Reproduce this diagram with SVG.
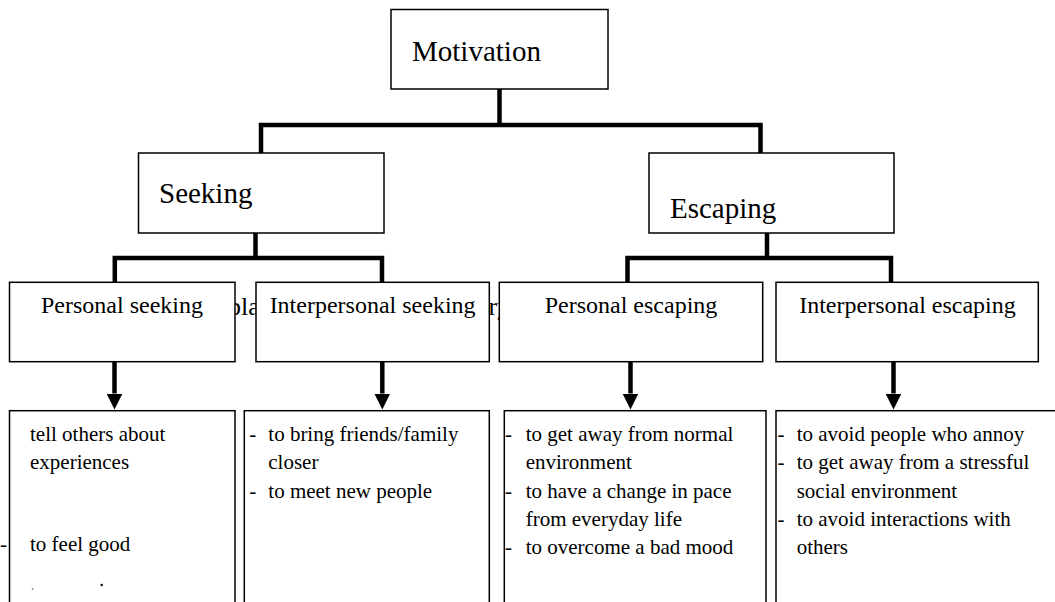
<svg xmlns="http://www.w3.org/2000/svg" width="1055" height="602" viewBox="0 0 1055 602">
  <style>
    .box { fill: #ffffff; stroke: #000000; stroke-width: 1.5; }
    .t { font-family: "Liberation Serif", "Times New Roman", serif; fill: #000000; }
    .big { font-size: 29px; }
    .mid { font-size: 24px; text-anchor: middle; }
    .sm { font-size: 21px; }
    .bar { fill: none; stroke: #000000; stroke-width: 4.5; stroke-linejoin: miter; stroke-linecap: butt; }
    .arrow { fill: none; stroke: #000000; stroke-width: 4.5; marker-end: url(#head); }
  </style>
  <defs>
    <marker id="head" markerUnits="userSpaceOnUse" viewBox="0 0 16 16" refX="0" refY="8" markerWidth="16" markerHeight="16" orient="auto">
      <path d="M0,0 L16,8 L0,16 z" fill="#000000"/>
    </marker>
  </defs>

  <rect x="0" y="0" width="1055" height="602" fill="#ffffff"/>

  <!-- stray text fragments lying under the third-level boxes -->
  <g id="stray-text" class="t" font-size="26">
    <text x="228" y="315">pla</text>
    <text x="488.5" y="315">ry</text>
  </g>

  <!-- tree connectors -->
  <g id="connectors">
    <path class="bar" d="M499.5,89 V125"/>
    <path class="bar" d="M261,153 V125 H760.5 V153"/>
    <path class="bar" d="M255.5,233 V258"/>
    <path class="bar" d="M114.8,282.3 V258 H382 V282.3"/>
    <path class="bar" d="M767,233 V258"/>
    <path class="bar" d="M627.5,282.3 V258 H891 V282.3"/>
    <path class="arrow" d="M114.5,361.7 V393.5"/>
    <path class="arrow" d="M382.3,361.7 V393.5"/>
    <path class="arrow" d="M630.5,361.7 V393.5"/>
    <path class="arrow" d="M893.5,361.7 V393.5"/>
  </g>

  <g id="motivation">
    <rect class="box" x="391" y="9.5" width="217" height="79.5"/>
    <text class="t big" x="412" y="61">Motivation</text>
  </g>

  <g id="seeking">
    <rect class="box" x="138.5" y="153" width="245.5" height="80"/>
    <text class="t big" x="159" y="203">Seeking</text>
  </g>

  <g id="escaping">
    <rect class="box" x="649" y="153" width="245" height="80"/>
    <text class="t big" x="670" y="218">Escaping</text>
  </g>

  <g id="personal-seeking">
    <rect class="box" x="9.5" y="282.3" width="225.5" height="79.4"/>
    <text class="t mid" x="122" y="312.7">Personal seeking</text>
  </g>

  <g id="interpersonal-seeking">
    <rect class="box" x="256" y="282.3" width="233.3" height="79.4"/>
    <text class="t mid" x="372.6" y="312.7">Interpersonal seeking</text>
  </g>

  <g id="personal-escaping">
    <rect class="box" x="499.3" y="282.3" width="263.4" height="79.4"/>
    <text class="t mid" x="631" y="312.7">Personal escaping</text>
  </g>

  <g id="interpersonal-escaping">
    <rect class="box" x="776" y="282.3" width="262.3" height="79.4"/>
    <text class="t mid" x="907.5" y="312.7">Interpersonal escaping</text>
  </g>

  <g id="personal-seeking-items">
    <rect class="box" x="9.5" y="410.7" width="225.5" height="230"/>
    <g class="t sm">
      <text x="30" y="441">tell others about</text>
      <text x="30" y="469">experiences</text>
      <text x="0" y="551">-</text>
      <text x="30" y="551">to feel good</text>
    </g>
    <circle cx="32.5" cy="589" r="0.8" fill="#555555"/>
    <circle cx="101.7" cy="585" r="1.2" fill="#000000"/>
  </g>

  <g id="interpersonal-seeking-items">
    <rect class="box" x="244.3" y="410.7" width="245" height="230"/>
    <g class="t sm">
      <text x="249.3" y="441">-</text>
      <text x="268.3" y="441">to bring friends/family</text>
      <text x="268.3" y="469">closer</text>
      <text x="249.3" y="497.7">-</text>
      <text x="268.3" y="497.7">to meet new people</text>
    </g>
  </g>

  <g id="personal-escaping-items">
    <rect class="box" x="504.3" y="410.7" width="261.7" height="230"/>
    <g class="t sm">
      <text x="505" y="441">-</text>
      <text x="525.7" y="441">to get away from normal</text>
      <text x="525.7" y="469">environment</text>
      <text x="505" y="497.7">-</text>
      <text x="525.7" y="497.7">to have a change in pace</text>
      <text x="525.7" y="525.7">from everyday life</text>
      <text x="505" y="554">-</text>
      <text x="525.7" y="554">to overcome a bad mood</text>
    </g>
  </g>

  <g id="interpersonal-escaping-items">
    <rect class="box" x="776" y="410.7" width="290" height="230"/>
    <g class="t sm">
      <text x="777.5" y="441">-</text>
      <text x="796.7" y="441">to avoid people who annoy</text>
      <text x="777.5" y="469">-</text>
      <text x="796.7" y="469">to get away from a stressful</text>
      <text x="796.7" y="497.7">social environment</text>
      <text x="777.5" y="525.7">-</text>
      <text x="796.7" y="525.7">to avoid interactions with</text>
      <text x="796.7" y="554">others</text>
    </g>
  </g>
</svg>
